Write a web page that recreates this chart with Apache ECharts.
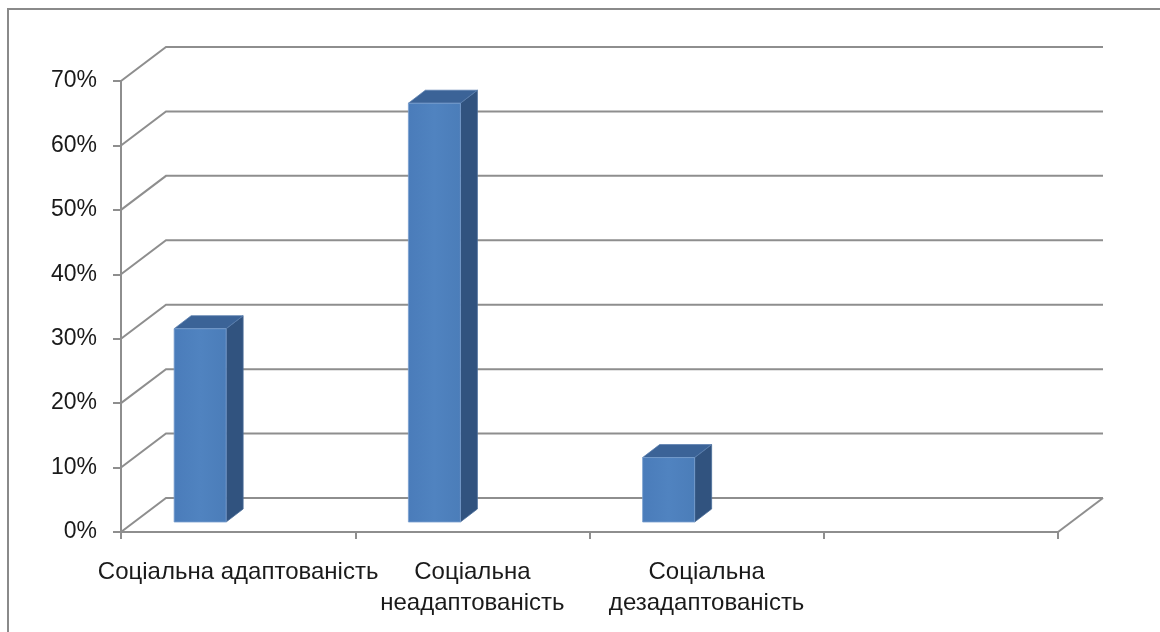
<!DOCTYPE html>
<html>
<head>
<meta charset="utf-8">
<script src="https://cdn.jsdelivr.net/npm/echarts@6/dist/echarts.min.js"></script>
<style>
  html, body { margin: 0; padding: 0; background: #fff; }
  #chart { width: 1160px; height: 632px; }
</style>
</head>
<body>
<div id="chart"></div>
<script>
// Categories (the last slot is an empty category, as in the source workbook)
const categories = ['Соціальна адаптованість', 'Соціальна\nнеадаптованість', 'Соціальна\nдезадаптованість', ''];
// Share of respondents, percent
const values = [30, 65, 10, null];
// Value-axis ticks, percent
const yTicks = [0, 10, 20, 30, 40, 50, 60, 70];

const GRID_COLOR = '#8e8e8e';
const FONT = '"Liberation Sans", Arial, sans-serif';
// Oblique projection of the chart depth
const DEPTH = { dx: 45, dy: -34 };
// Bar box: offset of the front face from the category centre, and bar depth
const BAR = { left: -64, right: -12, sink: 10, dx: 17, dy: -13 };

const chart = echarts.init(document.getElementById('chart'));

// Back wall / floor lines, one per value tick
function renderWall(params, api) {
  const cs = params.coordSys;
  const v = api.value(1);
  const y = api.coord([0, v])[1];
  const x0 = cs.x, x1 = cs.x + cs.width;
  const children = [{
    type: 'polyline',
    shape: { points: [[x0, y], [x0 + DEPTH.dx, y + DEPTH.dy], [x1 + DEPTH.dx, y + DEPTH.dy]] },
    style: { stroke: GRID_COLOR, lineWidth: 2, fill: null }
  }];
  if (v === 0) {
    children.push({
      type: 'line',
      shape: { x1: x1, y1: y, x2: x1 + DEPTH.dx, y2: y + DEPTH.dy },
      style: { stroke: GRID_COLOR, lineWidth: 2 }
    });
  }
  return { type: 'group', children };
}

// 3D-looking column: front, side and top faces
function renderBar(params, api) {
  const v = api.value(1);
  if (v == null || isNaN(v)) return null;
  const top = api.coord([api.value(0), v]);
  const base = api.coord([api.value(0), 0]);
  const xl = top[0] + BAR.left, xr = top[0] + BAR.right;
  const yt = top[1] - BAR.sink, yb = base[1] - BAR.sink;
  const dx = BAR.dx, dy = BAR.dy;
  return {
    type: 'group',
    children: [
      { type: 'polygon', shape: { points: [[xr, yb], [xr + dx, yb + dy], [xr + dx, yt + dy], [xr, yt]] },
        style: { fill: '#31537f', stroke: '#4a6d99', lineWidth: 0.8 } },
      { type: 'polygon', shape: { points: [[xl, yt], [xr, yt], [xr + dx, yt + dy], [xl + dx, yt + dy]] },
        style: { fill: '#3b6397', stroke: '#5a7fae', lineWidth: 0.8 } },
      { type: 'rect', shape: { x: xl, y: yt, width: xr - xl, height: yb - yt },
        style: {
          fill: new echarts.graphic.LinearGradient(0, 0, 1, 0, [
            { offset: 0, color: '#4a7cba' }, { offset: 0.5, color: '#5083c0' }, { offset: 1, color: '#4b7db9' }
          ]),
          stroke: '#7aa0cf', lineWidth: 0.8
        } }
    ]
  };
}

chart.setOption({
  backgroundColor: '#ffffff',
  animation: false,
  graphic: [{
    type: 'rect',
    shape: { x: 8, y: 9, width: 1300, height: 800 },
    style: { fill: null, stroke: '#8a8a8a', lineWidth: 2 },
    silent: true, z: -10
  }],
  grid: { left: 121, right: 102, top: 81, bottom: 100 },
  xAxis: {
    type: 'category',
    data: categories,
    boundaryGap: true,
    axisLine: { show: true, lineStyle: { color: GRID_COLOR, width: 2 } },
    axisTick: { show: true, length: 7, lineStyle: { color: GRID_COLOR, width: 2 } },
    axisLabel: {
      interval: 0, margin: 25, color: '#1a1a1a',
      fontFamily: FONT, fontSize: 24, lineHeight: 31, align: 'center'
    },
    splitLine: { show: false }
  },
  yAxis: {
    type: 'value',
    min: yTicks[0],
    max: yTicks[yTicks.length - 1],
    interval: yTicks[1] - yTicks[0],
    axisLine: { show: true, lineStyle: { color: GRID_COLOR, width: 2 } },
    axisTick: { show: true, length: 8, lineStyle: { color: GRID_COLOR, width: 2 } },
    axisLabel: {
      formatter: '{value}%', margin: 24, color: '#1a1a1a',
      fontFamily: FONT, fontSize: 23
    },
    splitLine: { show: false }
  },
  series: [
    {
      type: 'custom',
      name: 'wall',
      renderItem: renderWall,
      data: yTicks.map(t => [0, t]),
      encode: { x: 0, y: 1 },
      clip: false,
      silent: true,
      z: 1
    },
    {
      type: 'custom',
      name: 'bars',
      renderItem: renderBar,
      data: values.map((v, i) => [i, v]),
      encode: { x: 0, y: 1 },
      clip: false,
      z: 5
    }
  ]
});
</script>
</body>
</html>
